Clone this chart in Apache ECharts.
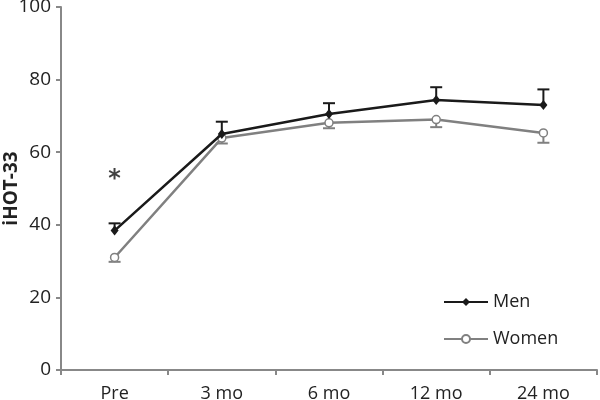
<!DOCTYPE html>
<html><head><meta charset="utf-8">
<script src="https://cdn.jsdelivr.net/npm/echarts@6/dist/echarts.min.js"></script>
<style>html,body{margin:0;padding:0;background:#fff}#c{width:600px;height:400px}</style>
</head><body><div id="c"></div>
<script>
var categories = ['Pre', '3 mo', '6 mo', '12 mo', '24 mo'];
var menMean = [38.4, 65.0, 70.5, 74.4, 73.0];
var menErrTop = [40.4, 68.4, 73.5, 77.9, 77.3];
var womenMean = [31.0, 63.9, 68.1, 69.0, 65.3];
var womenErrBottom = [29.8, 62.4, 66.6, 66.9, 62.6];
var yTicks = [0, 20, 40, 60, 80, 100];
var sigCategory = ['Pre'];
var sigLevel = [52.5];

var FONT = 'Open Sans';
var chart = echarts.init(document.getElementById('c'), null, {renderer: 'canvas'});

function errSeries(name, means, ends, color) {
  return {
    type: 'custom', name: name + ' err', z: 1, silent: true,
    data: means.map(function (m, i) { return [i, m, ends[i]]; }),
    renderItem: function (params, api) {
      var p0 = api.coord([api.value(0), api.value(1)]);
      var p1 = api.coord([api.value(0), api.value(2)]);
      var w = 6;
      return {
        type: 'group', children: [
          {type: 'line', shape: {x1: p0[0], y1: p0[1], x2: p1[0], y2: p1[1]}, style: {stroke: color, lineWidth: 2}},
          {type: 'line', shape: {x1: p1[0] - w, y1: p1[1], x2: p1[0] + w, y2: p1[1]}, style: {stroke: color, lineWidth: 2}}
        ]
      };
    }
  };
}

chart.setOption({
  animation: false,
  grid: {left: 61, right: 3, top: 7, bottom: 30, containLabel: false, outerBoundsMode: 'none'},
  legend: {
    orient: 'vertical', left: 443, top: 290, itemGap: 13, padding: 0,
    itemWidth: 44, itemHeight: 10,
    textStyle: {fontFamily: FONT, fontSize: 18, color: '#222', lineHeight: 24},
    data: ['Men', 'Women']
  },
  xAxis: {
    type: 'category', data: categories, boundaryGap: true,
    axisLine: {lineStyle: {color: '#888', width: 2}},
    axisTick: {show: true, length: 5, lineStyle: {color: '#888', width: 2}},
    axisLabel: {fontFamily: FONT, fontSize: 18, color: '#222', margin: 15}
  },
  yAxis: {
    type: 'value', min: yTicks[0], max: yTicks[yTicks.length - 1], interval: 20,
    name: 'iHOT-33', nameLocation: 'middle', nameGap: 40, nameRotate: 90, nameMoveOverlap: false,
    nameTextStyle: {fontFamily: FONT, fontSize: 19, fontWeight: 'bold', color: '#222'},
    axisLine: {show: true, lineStyle: {color: '#888', width: 2}},
    axisTick: {show: true, length: 5, lineStyle: {color: '#888', width: 2}},
    splitLine: {show: false},
    axisLabel: {fontFamily: FONT, fontSize: 19, color: '#222', margin: 10}
  },
  series: [
    errSeries('Men', menMean, menErrTop, '#1a1a1a'),
    errSeries('Women', womenMean, womenErrBottom, '#808080'),
    {
      type: 'line', name: 'Women', data: womenMean, z: 3,
      symbol: 'circle', symbolSize: 8,
      itemStyle: {color: '#fff', borderColor: '#808080', borderWidth: 1.5},
      lineStyle: {color: '#808080', width: 2.5}
    },
    {
      type: 'line', name: 'Men', data: menMean, z: 4,
      symbol: 'diamond', symbolSize: [8, 10],
      itemStyle: {color: '#1a1a1a'},
      lineStyle: {color: '#1a1a1a', width: 2.5}
    },
    {
      type: 'scatter', name: 'sig', silent: true,
      data: sigCategory.map(function (c, i) { return [c, sigLevel[i]]; }),
      symbolSize: 0,
      label: {show: true, formatter: '*', position: 'inside', fontFamily: 'DejaVu Sans', fontSize: 24, fontWeight: 'bold', color: '#111'}
    }
  ]
});
</script></body></html>
